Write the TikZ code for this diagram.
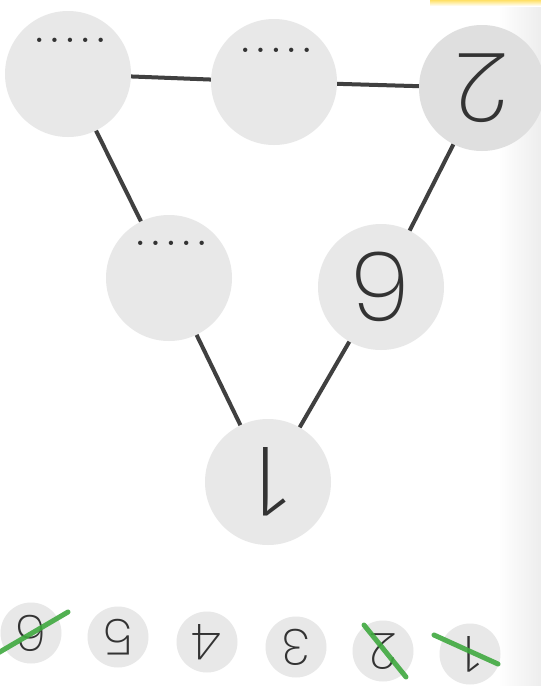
\documentclass[tikz,border=0pt]{standalone}
\usepackage{fontspec}
\newfontfamily\digitfont{Poppins ExtraLight}
\newfontfamily\onefont{Open Sans Light}
\newcommand\answerdots{.\hspace{6pt}.\hspace{6pt}.\hspace{6pt}.\hspace{6pt}.}
\begin{document}
\begin{tikzpicture}[x=1pt,y=-1pt,
  bigcircle/.style={circle,fill=gray!18,minimum size=126pt,inner sep=0pt,rotate=180,
    font=\digitfont\fontsize{96}{96}\selectfont,text=black!80},
  smallcircle/.style={circle,fill=gray!18,minimum size=61pt,inner sep=0pt,rotate=180,
    font=\digitfont\fontsize{50}{50}\selectfont,text=black!80},
  link/.style={line width=4pt,draw=black!75},
  strike/.style={line width=5pt,draw=green!55!black!75,line cap=round,opacity=0.9},
  dotsnode/.style={font=\bfseries\fontsize{30}{30}\selectfont,text=black!80,inner sep=0pt}]
\useasboundingbox (0,0) rectangle (541,686);
\fill[white] (0,0) rectangle (541,686);
\shade[left color=white,right color=gray!14] (498,0) rectangle (541,686);
\shade[top color=orange!40!yellow!60,bottom color=white] (430,0) rectangle (541,6);
% pyramid circles
\node[bigcircle] (tl) at (68,74) {};
\node[bigcircle] (tm) at (274,82) {};
\node[bigcircle,fill=gray!25] (tr) at (482,88) {2};
\node[bigcircle] (ml) at (169,278) {};
\node[bigcircle] (mr) at (381,287) {6};
\node[bigcircle,font=\onefont\fontsize{96}{96}\selectfont] (bt) at (268,482) {1};
% connectors
\draw[link] (tl) -- (tm);
\draw[link] (tm) -- (tr);
\draw[link] (tl) -- (ml);
\draw[link] (ml) -- (bt);
\draw[link] (bt) -- (mr);
\draw[link] (mr) -- (tr);
% answer dots
\node[dotsnode,anchor=base] (d1) at (70,42) {\answerdots};
\node[dotsnode,anchor=base] (d2) at (276,52) {\answerdots};
\node[dotsnode,anchor=base] (d3) at (171,245) {\answerdots};
% number row
\node[smallcircle] (n6) at (31,633) {6};
\node[smallcircle] (n5) at (118,637) {5};
\node[smallcircle] (n4) at (207,642) {4};
\node[smallcircle] (n3) at (296,647) {3};
\node[smallcircle] (n2) at (383,651) {2};
\node[smallcircle,font=\onefont\fontsize{50}{50}\selectfont] (n1) at (470,654) {1};
% crossings
\draw[strike] (-2,653) -- (68,612);
\draw[strike] (364,625) -- (406,677);
\draw[strike] (434,635) -- (498,664);
\end{tikzpicture}
\end{document}
